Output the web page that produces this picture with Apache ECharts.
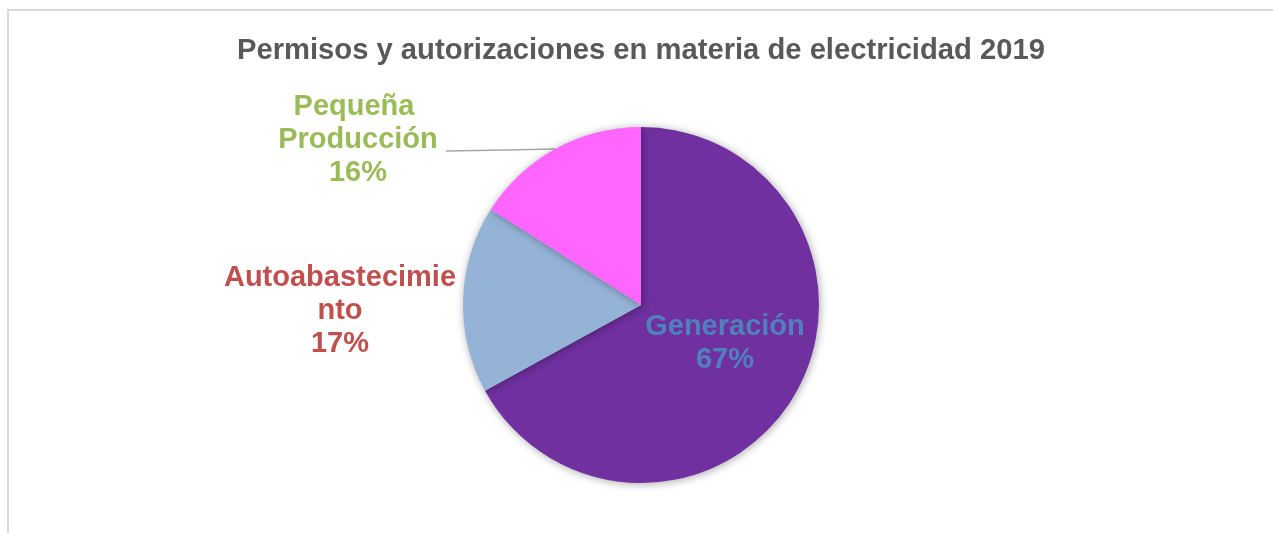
<!DOCTYPE html>
<html>
<head>
<meta charset="utf-8">
<script src="https://cdn.jsdelivr.net/npm/echarts@6/dist/echarts.min.js"></script>
<style>
  html, body { margin: 0; padding: 0; background: #fff; overflow: hidden; }
  #frame { position: absolute; left: 7px; top: 9px; width: 1400px; height: 700px; border: 2px solid #d9d9d9; box-sizing: border-box; }
  #chart { position: absolute; left: 0; top: 0; width: 1273px; height: 533px; }
</style>
</head>
<body>
<div id="frame"></div>
<div id="chart"></div>
<script>
const chartTitle = 'Permisos y autorizaciones en materia de electricidad 2019';
const categories = ['Generación', 'Autoabastecimiento', 'Pequeña Producción'];
const values = [67, 17, 16];
const sliceColors = ['#7030a0', '#95b3d7', '#ff66ff'];
const labelColors = ['#4f81bd', '#c0504d', '#9bbb59'];

// label anchor positions (px) matching the reference layout
const labelPos = [[725, 343], [340, 311], [358, 140]];
const labelWidths = [240, 236, 180];

const chart = echarts.init(document.getElementById('chart'), null, { renderer: 'canvas' });

const data = categories.map((name, i) => ({
  name: name,
  value: values[i],
  itemStyle: { color: sliceColors[i] },
  label: {
    color: labelColors[i],
    width: labelWidths[i],
    overflow: i === 1 ? 'breakAll' : 'break',
    position: i === 0 ? 'inside' : 'outside'
  },
  labelLine: { show: i === 2 }
}));

chart.setOption({
  animation: false,
  title: {
    text: chartTitle,
    left: 232,
    top: 31,
    textStyle: { fontFamily: 'Liberation Sans, Arial, sans-serif', fontSize: 29.2, fontWeight: 'bold', color: '#595959' }
  },
  series: [{
    type: 'pie',
    center: [641, 305],
    radius: 178,
    startAngle: 90,
    clockwise: true,
    avoidLabelOverlap: false,
    itemStyle: {
      borderWidth: 0,
      shadowBlur: 8,
      shadowColor: 'rgba(0,0,0,0.35)',
      shadowOffsetX: 1,
      shadowOffsetY: 1
    },
    emphasis: { disabled: true },
    label: {
      show: true,
      formatter: '{b}\n{d}%',
      fontFamily: 'Liberation Sans, Arial, sans-serif',
      fontSize: 29,
      fontWeight: 'bold',
      lineHeight: 33,
      align: 'center'
    },
    labelLine: {
      show: true,
      length: 0,
      length2: 100,
      lineStyle: { color: '#a6a6a6', width: 1.5 }
    },
    labelLayout: function (params) {
      const p = labelPos[params.dataIndex];
      const out = { x: p[0], y: p[1], align: 'center', verticalAlign: 'middle' };
      if (params.dataIndex === 2 && params.labelLinePoints) {
        const start = params.labelLinePoints[0];
        out.labelLinePoints = [
          [start[0], start[1]],
          [start[0] - 50, start[1] + 1],
          [p[0] + params.labelRect.width / 2 - 2, start[1] + 2]
        ];
      }
      return out;
    },
    data: data
  }]
});
</script>
</body>
</html>
